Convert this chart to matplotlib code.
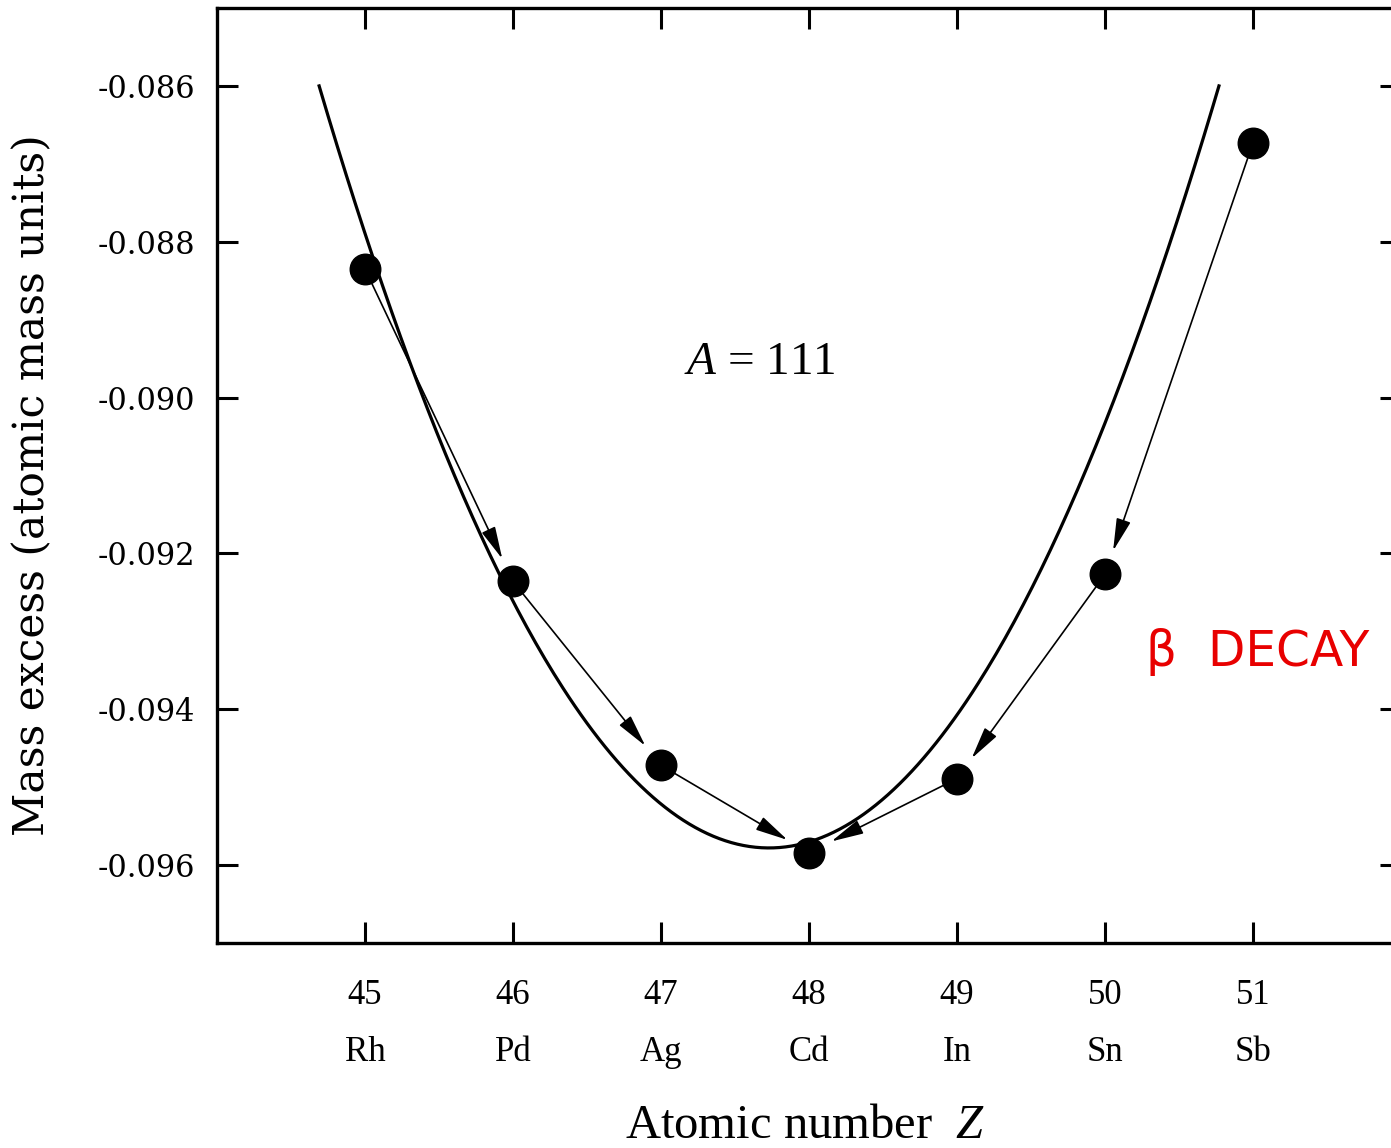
import numpy as np
import matplotlib
matplotlib.use("Agg")
import matplotlib.pyplot as plt

# ---- data ----
Z = [45, 46, 47, 48, 49, 50, 51]
elements = ["Rh", "Pd", "Ag", "Cd", "In", "Sn", "Sb"]
mass_excess = [-0.08835, -0.09236, -0.09472, -0.09584, -0.09489, -0.09227, -0.08673]

# beta-decay chains (index pairs: from -> to)
decay_from = [0, 1, 2, 6, 5, 4]
decay_to = [1, 2, 3, 5, 4, 3]

# mass parabola (vertex and end points)
parabola_vertex_Z = 47.73
parabola_vertex_mass = -0.09578
parabola_Z_range = [44.69, 50.77]
parabola_end_mass = -0.0860

y_ticks = [-0.086, -0.088, -0.090, -0.092, -0.094, -0.096]
y_ticklabels = ["-0.086", "-0.088", "-0.090", "-0.092", "-0.094", "-0.096"]

plt.rcParams["mathtext.fontset"] = "custom"
plt.rcParams["mathtext.rm"] = "Liberation Serif"
plt.rcParams["mathtext.it"] = "Liberation Serif:italic"

W, H = 1391, 1148
fig = plt.figure(figsize=(W / 100, H / 100), dpi=100)
ax = fig.add_axes([217 / W, 205 / H, (1401 - 217) / W, (943 - 8) / H])

ax.set_xlim(44, 52)
ax.set_ylim(-0.097, -0.085)

# parabola
half = (parabola_Z_range[1] - parabola_Z_range[0]) / 2
k = (parabola_end_mass - parabola_vertex_mass) / half ** 2
zz = np.linspace(parabola_Z_range[0], parabola_Z_range[1], 300)
ax.plot(zz, parabola_vertex_mass + k * (zz - parabola_vertex_Z) ** 2,
        color="black", lw=2.3, zorder=2)

# arrows
for i, j in zip(decay_from, decay_to):
    ax.annotate("", xy=(Z[j], mass_excess[j]), xytext=(Z[i], mass_excess[i]),
                arrowprops=dict(arrowstyle="-|>,head_length=0.8,head_width=0.18",
                                mutation_scale=25, color="black", lw=1.2,
                                shrinkA=0, shrinkB=18),
                zorder=3)

# points
ax.plot(Z, mass_excess, "o", color="black", markersize=22, zorder=4)

# ticks
ax.set_xticks(Z)
ax.set_xticklabels([f"{z}\n{e}" for z, e in zip(Z, elements)],
                   fontfamily="Liberation Serif", fontsize=25, linespacing=1.95)
ax.set_yticks(y_ticks)
ax.set_yticklabels(y_ticklabels, fontfamily="DejaVu Serif", fontsize=22)
ax.tick_params(axis="both", direction="in", length=15, width=2.2,
               top=True, right=True)
ax.tick_params(axis="x", pad=26)
ax.tick_params(axis="y", pad=16)
for s in ax.spines.values():
    s.set_linewidth(2.4)

ax.set_ylabel("Mass excess (atomic mass units)", fontfamily="DejaVu Serif",
              fontsize=30.5)
ax.yaxis.set_label_coords(-0.138, 0.49)
ax.set_xlabel("Atomic number  $Z$", fontfamily="Liberation Serif", fontsize=35)
ax.xaxis.set_label_coords(0.497, -0.172)

ax.text(47.67, -0.08955, "$A$ = 111", fontsize=34, ha="center", va="center",
        fontfamily="Liberation Serif")

ax.text(50.28, -0.09326, "β  DECAY", fontsize=35, color="#e80000", ha="left",
        va="center", fontfamily="DejaVu Sans")

fig.savefig("out.png", dpi=100)
